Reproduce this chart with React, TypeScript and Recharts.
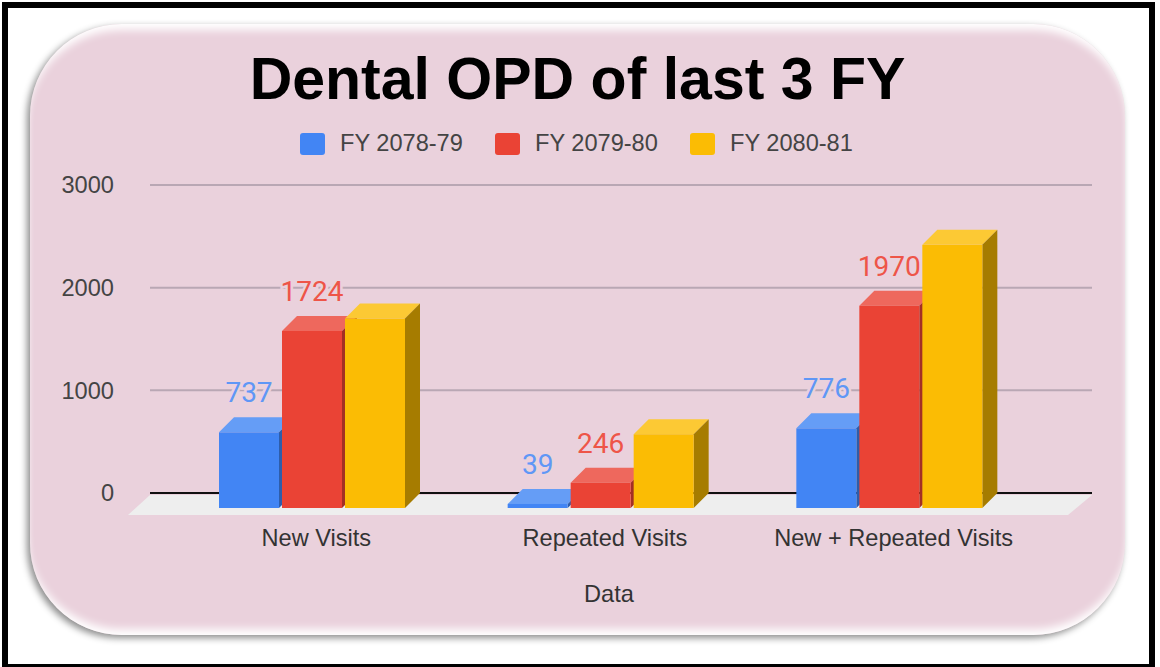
import React from "react";
import { BarChart, Bar, XAxis, YAxis, CartesianGrid, LabelList, Legend } from "recharts";

const categories = ["New Visits", "Repeated Visits", "New + Repeated Visits"];
const fy7879 = [737, 39, 776];
const fy7980 = [1724, 246, 1970];
const fy8081 = [1845, 718, 2563];
const yTicks = [0, 1000, 2000, 3000];

const data = categories.map((name, i) => ({
  name,
  "FY 2078-79": fy7879[i],
  "FY 2079-80": fy7980[i],
  "FY 2080-81": fy8081[i],
}));

const font = "'Liberation Sans', Arial, sans-serif";
const DEPTH_X = 15;
const DEPTH_Y = 15;

// front face sits below the axis line, top and side faces fake the depth
const Bar3D = (top: string, side: string) => (props: any) => {
  const { x, y, width, height, fill } = props;
  const fy = y + DEPTH_Y;
  const r = x + width;
  const b = fy + height;
  return (
    <g>
      <polygon points={`${x},${fy} ${x + DEPTH_X},${fy - DEPTH_Y} ${r + DEPTH_X},${fy - DEPTH_Y} ${r},${fy}`} fill={top} />
      <polygon points={`${r},${fy} ${r + DEPTH_X},${fy - DEPTH_Y} ${r + DEPTH_X},${b - DEPTH_Y} ${r},${b}`} fill={side} />
      <rect x={x} y={fy} width={width} height={height} fill={fill} />
    </g>
  );
};

const LegendRow = (props: any) => (
  <div style={{ position: "relative", width: 1160, height: 24 }}>
    {props.payload.map((item: any, i: number) => (
      <div key={item.value} style={{ position: "absolute", left: 300 + i * 195, top: 0, display: "flex", alignItems: "center" }}>
        <span style={{ width: 25, height: 22, borderRadius: 3, background: item.color, marginRight: 15, display: "inline-block" }} />
        <span style={{ fontFamily: font, fontSize: 23.6, color: "#444" }}>{item.value}</span>
      </div>
    ))}
  </div>
);

// value label with a pink halo that cuts the grid line behind it
const ValueLabel = (color: string) => (props: any) => {
  const { x, y, width, value } = props;
  return (
    <text
      x={x + width / 2}
      y={y - 15}
      textAnchor="middle"
      fontFamily="Roboto, sans-serif"
      fontSize={28}
      fill={color}
      stroke="#EAD1DC"
      strokeWidth={5}
      paintOrder="stroke"
    >
      {value}
    </text>
  );
};

const App: React.FC = () => {
  return (
    <div style={{ position: "absolute", left: 0, top: 0, width: 1160, height: 667, background: "#fff", overflow: "hidden" }}>
      <div
        style={{
          position: "absolute",
          left: 2,
          top: 2,
          right: 5,
          bottom: 0,
          borderStyle: "solid",
          borderColor: "#000",
          borderWidth: "6px 6px 3px 6px",
          boxSizing: "border-box",
        }}
      />
      <div
        style={{
          position: "absolute",
          left: 30,
          top: 24,
          width: 1095,
          height: 611,
          borderRadius: 92,
          background: "#EAD1DC",
          boxShadow: "-3px 3px 7px rgba(0,0,0,0.45), inset 0 10px 8px -4px #fff, inset 0 -10px 8px -4px #fff",
        }}
      />
      <svg width={1160} height={667} style={{ position: "absolute", left: 0, top: 0 }}>
        <polygon points="128,515 150,495 1092,495 1068,515" fill="#EEEEEE" />
      </svg>
      <div
        style={{
          position: "absolute",
          left: 0,
          top: 44,
          width: 1155,
          textAlign: "center",
          fontFamily: font,
          fontWeight: 700,
          fontSize: 59,
          lineHeight: "70px",
          color: "#000",
        }}
      >
        Dental OPD of last 3 FY
      </div>
      <div style={{ position: "absolute", left: 0, top: 0 }}>
        <BarChart
          width={1160}
          height={667}
          data={data}
          barSize={60}
          barGap={3}
          margin={{ top: 161, right: 68, bottom: 0, left: 0 }}
        >
          <CartesianGrid horizontal vertical={false} stroke="#B9A7B4" strokeWidth={2} />
          {/* zero line as a grid line so the bars paint over it */}
          <CartesianGrid horizontal vertical={false} horizontalValues={[0]} stroke="#111" strokeWidth={2} />
          <XAxis
            dataKey="name"
            height={174}
            padding={{ left: 18, right: 58 }}
            axisLine={false}
            tickLine={false}
            tickSize={0}
            tick={{ fontFamily: font, fontSize: 23.6, fill: "#333", dx: 4, dy: 34 }}
            label={{ value: "Data", position: "insideTop", dy: 87, dx: -12, fontFamily: font, fontSize: 23.6, fill: "#333" }}
          />
          <YAxis
            width={150}
            domain={[0, 3000]}
            ticks={yTicks}
            axisLine={false}
            tickLine={false}
            tickSize={0}
            tickMargin={36}
            tick={{ fontFamily: font, fontSize: 23.6, fill: "#444" }}
          />
          <Legend verticalAlign="top" content={LegendRow} wrapperStyle={{ left: 0, top: 130, width: 1160 }} />
          <Bar dataKey="FY 2078-79" fill="#4285F4" isAnimationActive={false} shape={Bar3D("#659DF6", "#2E5DAB")}>
            <LabelList dataKey="FY 2078-79" content={ValueLabel("#5F97F6")} />
          </Bar>
          <Bar dataKey="FY 2079-80" fill="#EA4335" isAnimationActive={false} shape={Bar3D("#EE685D", "#A32F25")}>
            <LabelList dataKey="FY 2079-80" content={ValueLabel("#EE5548")} />
          </Bar>
          <Bar dataKey="FY 2080-81" fill="#FBBC04" isAnimationActive={false} shape={Bar3D("#FCC934", "#A67C00")} />
        </BarChart>
      </div>
    </div>
  );
};

export default App;
